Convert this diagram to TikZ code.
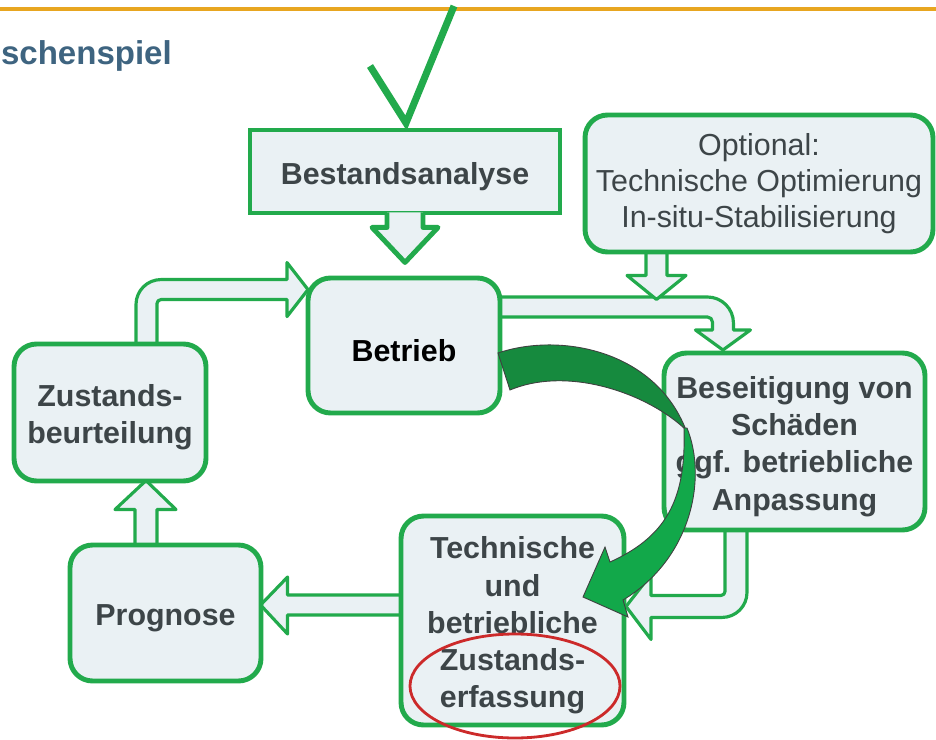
\documentclass[tikz,border=0pt]{standalone}
\usepackage{fontspec}
\setmainfont{Liberation Sans}
\usetikzlibrary{calc,backgrounds}

\definecolor{rahmengruen}{HTML}{22AA4C}
\definecolor{kastenfuell}{HTML}{EAF1F4}
\definecolor{schrift}{HTML}{3D4548}
\definecolor{titelblau}{HTML}{3E6480}
\definecolor{linieorange}{HTML}{E8A620}
\definecolor{bogenhell}{HTML}{12A84A}
\definecolor{bogendunkel}{HTML}{168A3E}
\definecolor{kreisrot}{HTML}{CC2A2A}

% etwas luft ueber der ersten zeile
\newcommand{\oben}{\rule{0pt}{0.64cm}}

\tikzset{
	kasten/.style={draw=rahmengruen, fill=kastenfuell, line width=2.8pt, rounded corners=0.45cm,
		align=center, inner sep=0pt, text=schrift, font=\fontsize{17.3}{21.2}\selectfont\bfseries},
	pfeil/.style={draw=rahmengruen, fill=kastenfuell, line width=1.8pt, line join=round},
	bogen/.style={draw=black!75, line width=0.5pt},
}

\begin{document}
\begin{tikzpicture}[x=0.02cm, y=-0.02cm]
			%%%%% START %%%%%
			\useasboundingbox (0,0) rectangle (936,740);
			
			\draw[linieorange, line width=2.2pt] (0,9) -- (936,9);
			\node[anchor=base east, text=titelblau, font=\fontsize{18.8}{23}\selectfont\bfseries] (titel) at (178,65) {schenspiel};
			
			% kaesten
			\node[kasten, sharp corners, minimum width=6.2cm, minimum height=1.66cm] (bestand) at (405,171.5) {\oben Bestandsanalyse};
			\node[kasten, font=\fontsize{17.3}{20.5}\selectfont, minimum width=6.96cm, minimum height=2.74cm] (optional) at (759,183.5) {Optional:\\Technische Optimierung\\In-situ-Stabilisierung};
			\node[kasten, text=black, minimum width=3.84cm, minimum height=2.7cm] (betrieb) at (404,345.5) {\oben Betrieb};
			\node[kasten, minimum width=5.22cm, minimum height=3.54cm] (beseitigung) at (794.5,441.5) {\oben Beseitigung von\\Schäden\\ggf. betriebliche\\Anpassung};
			\node[kasten, minimum width=4.46cm, minimum height=4.18cm] (technische) at (512.5,620.5) {\oben Technische\\und\\betriebliche\\Zustands-\\erfassung};
			\node[kasten, minimum width=3.84cm, minimum height=2.74cm] (zustand) at (110,412.5) {\oben Zustands-\\beurteilung};
			\node[kasten, minimum width=3.82cm, minimum height=2.72cm] (prognose) at (165.5,613) {\oben Prognose};
			
			% spitze der bestandsanalyse
			\draw[pfeil, line width=2.8pt] ($(bestand.south)+(-18,-3)$) -- ++(0,15) -- ++(-15,0) -- ++(33,35) -- ++(33,-35) -- ++(-15,0) -- ++(0,-15);
			
			% blockpfeile
			\begin{pgfonlayer}{background}
				\fill[white] (0,0) rectangle (936,740);
				\draw[pfeil] ($(zustand.north)+(26,3)$) -- ++(0,-40) arc(180:270:25) -- ++(126,0) -- ++(0,-17) -- ++(21,27) -- ++(-21,27) -- ++(0,-17) -- ++(-126,0) arc(270:180:4) -- ++(0,41);
				\draw[pfeil] ($(betrieb.east)+(-4,-48.5)$) -- ++(209,0) arc(270:360:26) -- ++(0,7) -- ++(17,0) -- ++(-27.5,20) -- ++(-27.5,-20) -- ++(17,0) -- ++(0,-8) arc(0:-90:5) -- ++(-209,0);
				\draw[pfeil] ($(optional.south)+(-113,-4)$) -- ++(0,25) -- ++(-19,0) -- ++(29.5,24) -- ++(29.5,-24) -- ++(-19,0) -- ++(0,-25);
				\draw[pfeil] ($(beseitigung.south)+(-69.5,-3)$) -- ++(0,62) arc(0:90:4) -- ++(-70,0) -- ++(0,-21) -- ++(-25,32) -- ++(25,33) -- ++(0,-22) -- ++(71,0) arc(90:0:25) -- ++(0,-63);
				\draw[pfeil] ($(technische.west)+(3,-25.5)$) -- ++(-114,0) -- ++(0,-18) -- ++(-27,28) -- ++(27,29) -- ++(0,-19) -- ++(114,0);
				\draw[pfeil] ($(prognose.north)+(-30.5,3)$) -- ++(0,-36) -- ++(-20,0) -- ++(31,-29) -- ++(30,29) -- ++(-19,0) -- ++(0,36);
			\end{pgfonlayer}
			
			% haken
			\draw[rahmengruen, line width=4pt] (370,66) -- (406,123) -- (454,6);
			
			% gebogener pfeil
			\draw[bogen, fill=bogendunkel] (498,353) .. controls (560,332) and (655,350) .. (686,430) .. controls (650,395) and (570,365) .. (510,390) -- cycle;
			\draw[bogen, fill=bogenhell] (684,428) .. controls (686,495) and (670,535) .. (610,562) -- (605,547) -- (583,597) -- (628,617) -- (623,600) .. controls (690,560) and (708,480) .. (687,428) -- cycle;
			
			\draw[kreisrot, line width=1.6pt] (515,686) ellipse (105 and 52);
			%%%%% END %%%%%
\end{tikzpicture}
\end{document}
